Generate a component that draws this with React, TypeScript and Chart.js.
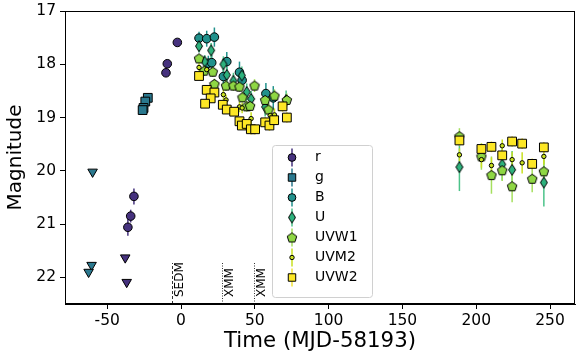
import React, { useEffect, useRef } from 'react';
import { Chart, registerables } from 'chart.js';
import { drawPoint } from 'chart.js/helpers';

Chart.register(...registerables);

// ---- data (time = MJD-58193, magnitude) ----
const rTime = [-2.5, -9.3, -10.2, -31.9, -34.1, -36.0];
const rMag = [17.59, 17.99, 18.16, 20.48, 20.85, 21.06];
const rErr = [0.03, 0.04, 0.04, 0.15, 0.12, 0.16];
const rLimTime = [-37.8, -36.8];
const rLimMag = [21.63, 22.09];

const gTime = [-22.5, -24.2, -25.4, -26.0];
const gMag = [18.63, 18.7, 18.82, 18.86];
const gErr = [0.03, 0.03, 0.03, 0.03];
const gLimTime = [-59.9, -60.6, -62.6];
const gLimMag = [20.02, 21.77, 21.9];

const bTime = [12.2, 17.4, 22.6, 18.5, 20.8, 31.0, 28.7, 39.6, 41.4, 57.5, 62.5];
const bMag = [17.51, 17.52, 17.49, 17.98, 17.97, 17.95, 18.23, 18.15, 18.3, 18.55, 18.63];
const bErr = [0.12, 0.15, 0.18, 0.14, 0.15, 0.18, 0.15, 0.2, 0.18, 0.2, 0.22];

const uTime = [12.2, 20.4, 16.0, 28.7, 31.0, 41.2, 35.5, 44.5, 47.5, 57.0, 71.2, 188.6, 217.6, 224.3, 245.8];
const uMag = [17.66, 17.74, 17.95, 18.0, 18.2, 18.21, 18.31, 18.52, 18.65, 18.8, 18.67, 19.93, 19.88, 19.98, 20.22];
const uErr = [0.12, 0.14, 0.12, 0.15, 0.15, 0.17, 0.15, 0.16, 0.15, 0.18, 0.18, 0.45, 0.3, 0.35, 0.45];

const uvw1Time = [12.2, 15.8, 21.5, 22.6, 30.5, 35.5, 39.6, 49.8, 41.6, 44.5, 46.8, 57.0, 63.3, 71.7, 59.3, 188.6, 203.5, 210.3, 217.6, 224.3, 237.9, 245.8];
const uvw1Mag = [17.89, 18.12, 18.14, 18.37, 18.4, 18.4, 18.42, 18.4, 18.62, 18.79, 18.78, 18.67, 18.59, 18.67, 18.85, 19.35, 19.73, 20.08, 19.99, 20.29, 20.15, 20.01];
const uvw1Err = [0.08, 0.1, 0.1, 0.1, 0.1, 0.1, 0.1, 0.12, 0.1, 0.1, 0.1, 0.12, 0.12, 0.12, 0.12, 0.15, 0.25, 0.35, 0.2, 0.3, 0.25, 0.25];

const uvm2Time = [12.2, 17.4, 28.7, 30.5, 39.6, 41.4, 47.5, 60.4, 63.3, 188.6, 203.5, 210.3, 217.6, 224.3, 231.1, 245.8];
const uvm2Mag = [18.06, 18.1, 18.57, 18.67, 18.8, 18.82, 19.02, 18.96, 18.95, 19.7, 19.79, 19.9, 19.53, 19.79, 19.85, 19.73];
const uvm2Err = [0.08, 0.08, 0.1, 0.1, 0.1, 0.1, 0.12, 0.12, 0.12, 0.12, 0.15, 0.15, 0.12, 0.15, 0.2, 0.15];

const uvw2Time = [12.2, 17.4, 22.6, 20.1, 16.3, 28.3, 31.0, 36.0, 39.6, 41.2, 44.5, 47.3, 50.2, 57.0, 59.9, 63.1, 68.8, 71.7, 188.6, 203.5, 210.3, 217.6, 224.3, 231.1, 237.9, 245.8];
const uvw2Mag = [18.22, 18.48, 18.53, 18.64, 18.74, 18.76, 18.85, 18.89, 19.07, 19.15, 19.12, 19.22, 19.22, 19.09, 19.15, 19.05, 18.79, 19.0, 19.43, 19.59, 19.55, 19.71, 19.45, 19.49, 19.87, 19.56];
const uvw2Err = [0.06, 0.07, 0.07, 0.07, 0.07, 0.08, 0.08, 0.08, 0.08, 0.08, 0.08, 0.1, 0.1, 0.1, 0.1, 0.1, 0.1, 0.1, 0.1, 0.1, 0.1, 0.1, 0.1, 0.1, 0.1, 0.1];

const eventTimes = [-6, 27.8, 49.5];
const eventLabels = ['SEDM', 'XMM', 'XMM'];

const xTickMin = -78.6;
const xTickMax = 266.9;
const yTickMin = 17;
const yTickMax = 22.5;

const FONT = "'DejaVu Sans', sans-serif";

function pts(t: number[], m: number[]) {
  return t.map((x, i) => ({ x, y: m[i] }));
}

function makePentagon(color: string) {
  const c = document.createElement('canvas');
  c.width = 12; c.height = 12;
  const ctx = c.getContext('2d')!;
  ctx.beginPath();
  const r = 5;
  for (let k = 0; k < 5; k++) {
    const a = -Math.PI / 2 + (k * 2 * Math.PI) / 5;
    const px = 6 + r * Math.cos(a);
    const py = 6.4 + r * Math.sin(a);
    if (k === 0) ctx.moveTo(px, py); else ctx.lineTo(px, py);
  }
  ctx.closePath();
  ctx.fillStyle = color; ctx.fill();
  ctx.strokeStyle = '#000'; ctx.lineWidth = 1; ctx.stroke();
  return c;
}

function makeDiamond(color: string) {
  const c = document.createElement('canvas');
  c.width = 10; c.height = 14;
  const ctx = c.getContext('2d')!;
  ctx.beginPath();
  ctx.moveTo(5, 1.5); ctx.lineTo(8.5, 7); ctx.lineTo(5, 12.5); ctx.lineTo(1.5, 7);
  ctx.closePath();
  ctx.fillStyle = color; ctx.fill();
  ctx.strokeStyle = '#000'; ctx.lineWidth = 1; ctx.stroke();
  return c;
}

const C_R = '#46327e';
const C_G = '#2a788e';
const C_B = '#21918c';
const C_U = '#2db27d';
const C_W1 = '#8fd744';
const C_M2 = '#c8e020';
const C_W2 = '#fde725';

export default function App() {
  const ref = useRef<HTMLCanvasElement | null>(null);

  useEffect(() => {
    document.body.style.margin = '0';
    const canvas = ref.current!;

    const errorBars = {
      id: 'errorBars',
      beforeDatasetsDraw(chart: any) {
        const ctx = chart.ctx;
        const ys = chart.scales.y;
        ctx.save();
        chart.data.datasets.forEach((ds: any, i: number) => {
          if (!ds.yErr) return;
          const meta = chart.getDatasetMeta(i);
          ctx.strokeStyle = ds.errColor || ds.backgroundColor;
          ctx.lineWidth = 1.5;
          ds.data.forEach((p: any, j: number) => {
            const el = meta.data[j];
            if (!el) return;
            const e = ds.yErr[j];
            ctx.beginPath();
            ctx.moveTo(el.x, ys.getPixelForValue(p.y - e));
            ctx.lineTo(el.x, ys.getPixelForValue(p.y + e));
            ctx.stroke();
          });
        });
        ctx.restore();
      },
    };

    const frameAndNotes = {
      id: 'frameAndNotes',
      afterDraw(chart: any) {
        const ctx = chart.ctx;
        const a = chart.chartArea;
        const xs = chart.scales.x;
        ctx.save();
        // event markers
        eventTimes.forEach((t, i) => {
          const px = Math.round(xs.getPixelForValue(t)) + 0.5;
          ctx.strokeStyle = '#333';
          ctx.lineWidth = 1;
          ctx.setLineDash(eventLabels[i] === 'SEDM' ? [3, 2] : [1, 1.5]);
          ctx.beginPath();
          ctx.moveTo(px, a.bottom);
          ctx.lineTo(px, a.bottom - 41);
          ctx.stroke();
          ctx.setLineDash([]);
          ctx.save();
          ctx.translate(px + 1.5, a.bottom - 7);
          ctx.rotate(-Math.PI / 2);
          ctx.fillStyle = '#000';
          ctx.font = `12px ${FONT}`;
          ctx.textAlign = 'left';
          ctx.textBaseline = 'top';
          ctx.fillText(eventLabels[i], 0, 0);
          ctx.restore();
        });
        // frame
        ctx.strokeStyle = '#000';
        ctx.lineWidth = 1;
        ctx.strokeRect(a.left + 0.5, a.top + 0.5, a.right - a.left - 1, a.bottom - a.top - 1);

        // legend
        const lx = 272, ly = 145, lw = 100, lh = 152;
        ctx.fillStyle = 'rgba(255,255,255,0.85)';
        ctx.strokeStyle = '#d0d0d0';
        ctx.lineWidth = 1;
        ctx.beginPath();
        ctx.roundRect(lx + 0.5, ly + 0.5, lw, lh, 3);
        ctx.fill();
        ctx.stroke();
        const entries = chart.data.datasets.filter((d: any) => d.inLegend);
        entries.forEach((ds: any, i: number) => {
          const cy = ly + 12.5 + i * 20;
          const cx = lx + 20;
          ctx.strokeStyle = ds.errColor || ds.backgroundColor;
          ctx.lineWidth = 1.5;
          ctx.beginPath();
          ctx.moveTo(cx, cy - 9);
          ctx.lineTo(cx, cy + 9);
          ctx.stroke();
          ctx.fillStyle = ds.backgroundColor;
          ctx.strokeStyle = '#000';
          ctx.lineWidth = 1;
          const r = ds.pointStyle === 'rect' ? ds.pointRadius * 0.85 : ds.pointStyle === 'circle' && ds.pointRadius > 3 ? ds.pointRadius * 0.9 : ds.pointRadius;
          drawPoint(ctx, { pointStyle: ds.pointStyle, rotation: 0, radius: r, borderWidth: 1 }, cx, cy);
          ctx.fillStyle = '#000';
          ctx.font = `14px ${FONT}`;
          ctx.textAlign = 'left';
          ctx.textBaseline = 'middle';
          ctx.fillText(ds.label, lx + 43, cy);
        });
        ctx.restore();
      },
    };

    const base = {
      showLine: false,
      borderColor: '#000',
      borderWidth: 1,
      pointHoverRadius: 0,
    };

    const chart = new Chart(canvas, {
      type: 'scatter',
      data: {
        datasets: [
          { ...base, label: 'r', inLegend: true, data: pts(rTime, rMag), yErr: rErr, backgroundColor: C_R, pointStyle: 'circle', pointRadius: 4.3, order: 9 } as any,
          { ...base, label: 'r lim', data: pts(rLimTime, rLimMag), backgroundColor: C_R, pointStyle: 'triangle', pointRotation: 180, pointRadius: 5.5, order: 10 } as any,
          { ...base, label: 'g', inLegend: true, data: pts(gTime, gMag), yErr: gErr, backgroundColor: C_G, pointStyle: 'rect', pointRadius: 6.2, order: 7 } as any,
          { ...base, label: 'g lim', data: pts(gLimTime, gLimMag), backgroundColor: C_G, pointStyle: 'triangle', pointRotation: 180, pointRadius: 5.5, order: 8 } as any,
          { ...base, label: 'B', inLegend: true, data: pts(bTime, bMag), yErr: bErr, backgroundColor: C_B, pointStyle: 'circle', pointRadius: 4.3, order: 6 } as any,
          { ...base, label: 'U', inLegend: true, data: pts(uTime, uMag), yErr: uErr, backgroundColor: C_U, errColor: '#4cc38a', pointStyle: makeDiamond(C_U), pointRadius: 5, order: 5 } as any,
          { ...base, label: 'UVW1', inLegend: true, data: pts(uvw1Time, uvw1Mag), yErr: uvw1Err, backgroundColor: C_W1, errColor: '#a5df5e', pointStyle: makePentagon(C_W1), pointRadius: 5, order: 4 } as any,
          { ...base, label: 'UVM2', inLegend: true, data: pts(uvm2Time, uvm2Mag), yErr: uvm2Err, backgroundColor: C_M2, pointStyle: 'circle', pointRadius: 2.2, order: 3 } as any,
          { ...base, label: 'UVW2', inLegend: true, data: pts(uvw2Time, uvw2Mag), yErr: uvw2Err, backgroundColor: C_W2, errColor: '#f3e43a', pointStyle: 'rect', pointRadius: 6.2, order: 2 } as any,
        ],
      },
      options: {
        animation: false,
        responsive: false,
        maintainAspectRatio: false,
        layout: { autoPadding: false, padding: { top: 11, right: 2, left: 0, bottom: 0 } },
        plugins: { legend: { display: false }, tooltip: { enabled: false } },
        events: [],
        scales: {
          x: {
            type: 'linear',
            min: xTickMin,
            max: xTickMax,
            afterFit: (s: any) => { s.height = 52; s.paddingLeft = 0; s.paddingRight = 0; },
            ticks: { stepSize: 50, includeBounds: false, color: '#000', font: { family: FONT, size: 15.5 }, padding: 3, maxRotation: 0 },
            grid: { display: true, drawOnChartArea: false, drawTicks: true, tickLength: 5, color: '#000', tickWidth: 1 },
            border: { display: true, color: '#000' },
            title: { display: true, text: 'Time (MJD-58193)', color: '#000', font: { family: FONT, size: 21.3 }, padding: { top: 0, bottom: 2 } },
          },
          y: {
            type: 'linear',
            reverse: true,
            min: yTickMin,
            max: yTickMax,
            afterFit: (s: any) => { s.width = 65; s.paddingTop = 0; s.paddingBottom = 0; },
            ticks: { stepSize: 1, includeBounds: false, color: '#000', font: { family: FONT, size: 15.5 }, padding: 4 },
            grid: { display: true, drawOnChartArea: false, drawTicks: true, tickLength: 5, color: '#000', tickWidth: 1 },
            border: { display: true, color: '#000' },
            title: { display: true, text: 'Magnitude', color: '#000', font: { family: FONT, size: 20 }, padding: { top: 4, bottom: 0 } },
          },
        },
      },
      plugins: [errorBars, frameAndNotes],
    } as any);

    return () => chart.destroy();
  }, []);

  return (
    <div style={{ position: 'absolute', left: 0, top: 0, width: 577, height: 356 }}>
      <canvas ref={ref} width={577} height={356} style={{ width: 577, height: 356 }} />
    </div>
  );
}
